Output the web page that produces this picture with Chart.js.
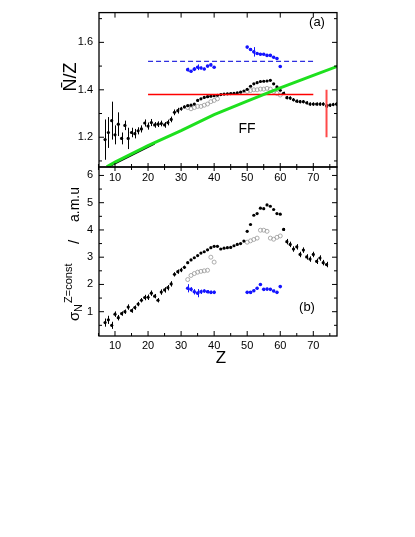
<!DOCTYPE html>
<html>
<head>
<meta charset="utf-8">
<script src="https://cdn.jsdelivr.net/npm/chart.js@4/dist/chart.umd.min.js"></script>
<style>
  body { margin: 0; background: #fff; }
  #wrap { position: relative; width: 415px; height: 537px; }
  canvas { position: absolute; left: 0; top: 0; }
</style>
</head>
<body>
<div id="wrap">
  <canvas id="graficaA" width="415" height="200"></canvas>
  <canvas id="graficaB" width="415" height="380"></canvas>
</div>
<script>
// ---- datos panel (a): N/Z promedio ----
const zA = [7, 8, 9, 10, 11, 12, 13, 14, 15, 16, 17, 18, 19, 20, 21, 22, 23, 24, 25, 26, 27, 28, 29, 30, 31, 32, 33, 34, 35, 36, 37, 38, 39, 40, 41, 42, 43, 44, 45, 46, 47, 48, 49, 50, 51, 52, 53, 54, 55, 56, 57, 58, 59, 60, 61, 62, 63, 64, 65, 66, 67, 68, 69, 70, 71, 72, 73, 74, 75, 76, 77];
const nzA = [1.19, 1.22, 1.27, 1.21, 1.255, 1.195, 1.25, 1.195, 1.22, 1.215, 1.227, 1.235, 1.26, 1.247, 1.262, 1.252, 1.255, 1.258, 1.252, 1.262, 1.275, 1.305, 1.312, 1.32, 1.328, 1.333, 1.335, 1.34, 1.355, 1.362, 1.368, 1.371, 1.373, 1.375, 1.377, 1.38, 1.382, 1.383, 1.384, 1.385, 1.387, 1.39, 1.395, 1.402, 1.415, 1.425, 1.43, 1.435, 1.436, 1.437, 1.44, 1.425, 1.412, 1.398, 1.385, 1.367, 1.365, 1.358, 1.352, 1.35, 1.35, 1.345, 1.34, 1.34, 1.34, 1.34, 1.34, 1.332, 1.335, 1.338, 1.34];
const errA = [0.085, 0.065, 0.08, 0.04, 0.05, 0.025, 0.02, 0.045, 0.02, 0.02, 0.015, 0.015, 0.015, 0.015, 0.015, 0.012, 0.012, 0.012, 0.012, 0.012, 0.012, 0.012, 0.012, 0.008, 0.006, 0.004, 0.004, 0.004, 0.004, 0.004, 0.004, 0.004, 0.004, 0.004, 0.004, 0.004, 0.004, 0.004, 0.004, 0.004, 0.004, 0.004, 0.004, 0.004, 0.004, 0.004, 0.004, 0.004, 0.004, 0.004, 0.004, 0.004, 0.004, 0.004, 0.007, 0.007, 0.007, 0.007, 0.007, 0.007, 0.007, 0.007, 0.007, 0.007, 0.007, 0.007, 0.007, 0.007, 0.007, 0.007, 0.007];

const zAbiertoLo = [32, 33, 34, 35, 36, 37, 38, 39, 40, 41];
const zAbiertoHi = [50, 51, 52, 53, 54, 55, 56, 57, 58, 59, 60];
const nzAbiertoLo = [1.325, 1.32, 1.325, 1.33, 1.33, 1.335, 1.34, 1.35, 1.355, 1.362];
const nzAbiertoHi = [1.393, 1.397, 1.40, 1.40, 1.403, 1.403, 1.406, 1.403, 1.393, 1.385, 1.378];

const zAzulLo = [32, 33, 34, 35, 36, 37, 38, 39, 40];
const zAzulHi = [50, 51, 52, 53, 54, 55, 56, 57, 58, 59, 60];
const nzAzulLo = [1.485, 1.478, 1.487, 1.495, 1.492, 1.488, 1.50, 1.505, 1.495];
const errAzulLo = [0.008, 0.005, 0.008, 0.012, 0.006, 0.005, 0.005, 0.006, 0.004];
const nzAzulHi = [1.58, 1.57, 1.56, 1.553, 1.55, 1.55, 1.545, 1.545, 1.537, 1.532, 1.498];
const errAzulHi = [0.005, 0.005, 0.02, 0.005, 0.004, 0.004, 0.004, 0.004, 0.004, 0.004, 0.004];

// linea verde (FF) y linea negra debajo al inicio
const zVerde = [7.5, 10, 20, 30, 40, 50, 60, 70, 77.5];
const nzVerde = [1.075, 1.095, 1.165, 1.228, 1.295, 1.352, 1.408, 1.461, 1.50];
const zNegra = [7.5, 22];
const nzNegra = [1.071, 1.172];

// lineas de referencia
const zRef = [20, 70];
const nzRoja = [1.38, 1.38];
const nzAzulRef = [1.52, 1.52];
const zBarraRoja = [74, 74];
const nzBarraRoja = [1.20, 1.40];

// ---- datos panel (b): sigma_N ----
const zB = [7, 8, 9, 10, 11, 12, 13, 14, 15, 16, 17, 18, 19, 20, 21, 22, 23, 24, 25, 26, 27, 28, 29, 30, 31, 32, 33, 34, 35, 36, 37, 38, 39, 40, 41, 42, 43, 44, 45, 46, 47, 48, 49, 50, 51, 52, 53, 54, 55, 56, 57, 58, 59, 60, 61, 62, 63, 64, 65, 66, 67, 68, 69, 70, 71, 72, 73, 74];
const sigB = [0.6, 0.7, 0.5, 0.91, 0.78, 0.93, 1.0, 1.17, 1.04, 1.15, 1.28, 1.42, 1.52, 1.53, 1.68, 1.57, 1.42, 1.72, 1.8, 1.88, 2.02, 2.37, 2.47, 2.53, 2.63, 2.8, 2.9, 2.98, 3.06, 3.15, 3.2, 3.27, 3.35, 3.4, 3.4, 3.3, 3.33, 3.35, 3.36, 3.42, 3.47, 3.5, 3.59, 3.95, 4.2, 4.54, 4.6, 4.8, 4.78, 4.92, 4.87, 4.75, 4.6, 4.58, 4.02, 3.57, 3.47, 3.3, 3.38, 3.1, 3.26, 3.01, 2.93, 3.1, 2.85, 2.97, 2.8, 2.73];
const errB = [0.15, 0.15, 0.13, 0.1, 0.1, 0.08, 0.08, 0.1, 0.08, 0.08, 0.08, 0.08, 0.1, 0.1, 0.1, 0.08, 0.08, 0.1, 0.1, 0.1, 0.1, 0.08, 0.08, 0.08, 0.06, 0.02, 0.02, 0.02, 0.02, 0.02, 0.02, 0.02, 0.02, 0.02, 0.02, 0.02, 0.02, 0.02, 0.02, 0.02, 0.02, 0.02, 0.02, 0.02, 0.02, 0.02, 0.02, 0.02, 0.02, 0.02, 0.02, 0.02, 0.02, 0.02, 0.05, 0.1, 0.1, 0.1, 0.1, 0.1, 0.1, 0.1, 0.1, 0.1, 0.1, 0.1, 0.1, 0.1];

const zBAbiertoLo = [32, 33, 34, 35, 36, 37, 38, 39, 40];
const sigBAbiertoLo = [2.18, 2.33, 2.4, 2.45, 2.48, 2.5, 2.52, 3.0, 2.82];
const sigBAbiertoHi = [3.55, 3.6, 3.65, 3.7, 3.99, 3.99, 3.95, 3.7, 3.66, 3.73, 3.78];

const sigBAzulLo = [1.86, 1.82, 1.73, 1.68, 1.73, 1.76, 1.73, 1.71, 1.71];
const errBAzulLo = [0.15, 0.08, 0.1, 0.15, 0.08, 0.06, 0.06, 0.06, 0.06];
const sigBAzulHi = [1.71, 1.71, 1.77, 1.86, 2.0, 1.82, 1.83, 1.82, 1.76, 1.71, 1.92];
const errBAzulHi = [0.05, 0.05, 0.05, 0.05, 0.05, 0.05, 0.05, 0.05, 0.05, 0.05, 0.05];

// ---- ticks ----
const ticksZ = [10, 20, 30, 40, 50, 60, 70];
const ticksZMenor = [5, 15, 25, 35, 45, 55, 65, 75];
const ticksA = [1.2, 1.4, 1.6];
const ticksAMenor = [1.1, 1.3, 1.5, 1.7];
const ticksB = [1, 2, 3, 4, 5, 6];
const ticksBMenor = [0.5, 1.5, 2.5, 3.5, 4.5, 5.5];

const FUENTE = "'Liberation Sans', Arial, sans-serif";

function puntos(xs, ys) {
    return xs.map((x, i) => ({ x: x, y: ys[i] }));
}

// barras de error y marco con ticks hacia dentro
const marco = {
    id: 'marco',
    beforeDatasetsDraw(chart) {
        const ctx = chart.ctx;
        const sx = chart.scales.x, sy = chart.scales.y;
        ctx.save();
        chart.data.datasets.forEach(ds => {
            if (!ds.errs) return;
            ctx.strokeStyle = ds.borderColor;
            ctx.lineWidth = 1;
            ds.data.forEach((p, j) => {
                const e = ds.errs[j];
                if (!e) return;
                const px = Math.round(sx.getPixelForValue(p.x)) + 0.5;
                ctx.beginPath();
                ctx.moveTo(px, sy.getPixelForValue(p.y - e));
                ctx.lineTo(px, sy.getPixelForValue(p.y + e));
                ctx.stroke();
            });
        });
        ctx.restore();
    },
    afterDraw(chart, args, opts) {
        const ctx = chart.ctx;
        const { left, right, top, bottom } = chart.chartArea;
        const sx = chart.scales.x, sy = chart.scales.y;
        ctx.save();
        ctx.strokeStyle = '#000';
        ctx.lineWidth = 1.3;
        ctx.strokeRect(left, top, right - left, bottom - top);
        ctx.lineWidth = 1;
        const linea = (x1, y1, x2, y2) => {
            ctx.beginPath(); ctx.moveTo(x1, y1); ctx.lineTo(x2, y2); ctx.stroke();
        };
        opts.yMayor.forEach(v => {
            const py = sy.getPixelForValue(v);
            linea(left, py, left + 5, py); linea(right, py, right - 5, py);
        });
        opts.yMenor.forEach(v => {
            const py = sy.getPixelForValue(v);
            if (py < top || py > bottom) return;
            linea(left, py, left + 3, py); linea(right, py, right - 3, py);
        });
        ticksZ.forEach(v => {
            const px = sx.getPixelForValue(v);
            if (opts.cruzado) linea(px, bottom - 4, px, bottom + 4);
            else linea(px, bottom, px, bottom - 5);
            if (opts.arriba) linea(px, top, px, top + 5);
        });
        ticksZMenor.forEach(v => {
            const px = sx.getPixelForValue(v);
            if (opts.cruzado) linea(px, bottom - 3, px, bottom + 3);
            else linea(px, bottom, px, bottom - 3);
        });
        // textos
        ctx.fillStyle = '#000';
        opts.textos.forEach(t => {
            ctx.save();
            ctx.translate(t.x, t.y);
            if (t.rot) ctx.rotate(-Math.PI / 2);
            ctx.font = t.size + 'px ' + FUENTE;
            ctx.textAlign = t.align || 'center';
            ctx.textBaseline = t.base || 'middle';
            ctx.fillText(t.text, t.dx || 0, t.dy || 0);
            ctx.restore();
        });
        ctx.restore();
    }
};

function escalaX(padTicks) {
    return {
        type: 'linear', min: 5.16, max: 77.17,
        grid: { display: false, drawTicks: false },
        border: { display: false },
        afterBuildTicks: s => { s.ticks = ticksZ.map(v => ({ value: v })); },
        ticks: { padding: padTicks, color: '#000', font: { family: FUENTE, size: 11 } },
        afterFit: s => { s.height = 33; }
    };
}

function escalaY(min, max, valores) {
    return {
        type: 'linear', min: min, max: max,
        grid: { display: false, drawTicks: false },
        border: { display: false },
        afterBuildTicks: s => { s.ticks = valores.map(v => ({ value: v })); },
        ticks: { padding: 6, color: '#000', font: { family: FUENTE, size: 11 },
                 callback: v => valores === ticksA ? v.toFixed(1) : v },
        afterFit: s => { s.width = 99; }
    };
}

const lineaDs = (xs, ys, color, ancho, dash) => ({
    data: puntos(xs, ys), showLine: true, borderColor: color, borderWidth: ancho,
    borderDash: dash || [], pointRadius: 0, fill: false
});
const negroDs = (xs, ys, errs) => ({
    data: puntos(xs, ys), errs: errs, showLine: false, borderColor: '#000',
    backgroundColor: '#000', pointRadius: 1.6, pointBorderWidth: 0
});
const abiertoDs = (xs, ys) => ({
    data: puntos(xs, ys), showLine: false, borderColor: '#999',
    backgroundColor: 'rgba(255,255,255,0)', pointRadius: 2, pointBorderWidth: 0.8
});
const azulDs = (xs, ys, errs) => ({
    data: puntos(xs, ys), errs: errs, showLine: false, borderColor: '#1414ff',
    backgroundColor: '#1414ff', pointRadius: 1.8, pointBorderWidth: 0
});

const comunes = {
    responsive: false, animation: false, devicePixelRatio: 1,
    plugins: { legend: { display: false }, tooltip: { enabled: false } }
};

// Panel (a)
new Chart(document.getElementById('graficaA'), {
    type: 'scatter',
    data: {
        datasets: [
            lineaDs(zVerde, nzVerde, '#1ee01e', 3),
            lineaDs(zNegra, nzNegra, '#000', 1.5),
            lineaDs(zRef, nzRoja, '#ff0000', 1.5),
            lineaDs(zBarraRoja, nzBarraRoja, '#ff4a4a', 2),
            lineaDs(zRef, nzAzulRef, '#2f2fe0', 1.3, [5, 3]),
            azulDs(zAzulLo, nzAzulLo, errAzulLo),
            azulDs(zAzulHi, nzAzulHi, errAzulHi),
            negroDs(zA, nzA, errA),
            abiertoDs(zAbiertoLo, nzAbiertoLo),
            abiertoDs(zAbiertoHi, nzAbiertoHi)
        ]
    },
    options: {
        ...comunes,
        layout: { padding: { left: 0, right: 78, top: 1, bottom: 0 } },
        scales: { x: escalaX(4), y: escalaY(1.0745, 1.7255, ticksA) },
        plugins: {
            ...comunes.plugins,
            marco: {
                yMayor: ticksA, yMenor: ticksAMenor, cruzado: true, arriba: true,
                textos: [
                    { text: 'N\u0304/Z', x: 71, y: 77, size: 18, rot: true },
                    { text: '(a)', x: 317, y: 22, size: 13 },
                    { text: 'FF', x: 247, y: 129, size: 14 }
                ]
            }
        }
    },
    plugins: [marco]
});

// Panel (b)
new Chart(document.getElementById('graficaB'), {
    type: 'scatter',
    data: {
        datasets: [
            azulDs(zAzulLo, sigBAzulLo, errBAzulLo),
            azulDs(zAzulHi, sigBAzulHi, errBAzulHi),
            negroDs(zB, sigB, errB),
            abiertoDs(zBAbiertoLo, sigBAbiertoLo),
            abiertoDs(zAbiertoHi, sigBAbiertoHi)
        ]
    },
    options: {
        ...comunes,
        layout: { padding: { left: 0, right: 78, top: 167, bottom: 11 } },
        scales: { x: escalaX(3), y: escalaY(0.108, 6.31, ticksB) },
        plugins: {
            ...comunes.plugins,
            marco: {
                yMayor: ticksB, yMenor: ticksBMenor, cruzado: false, arriba: false,
                textos: [
                    { text: 'Z', x: 221, y: 358, size: 17 },
                    { text: '(b)', x: 307, y: 307, size: 13 },
                    // titulo del eje y: sigma_N^{Z=const} / a.m.u
                    { text: '\u03c3', x: 79, y: 321, size: 15, rot: true, align: 'left', base: 'alphabetic', dx: 0 },
                    { text: 'N', x: 82, y: 321, size: 11, rot: true, align: 'left', base: 'alphabetic', dx: 9 },
                    { text: 'Z=const', x: 72, y: 321, size: 11, rot: true, align: 'left', base: 'alphabetic', dx: 18 },
                    { text: '/', x: 79, y: 321, size: 15, rot: true, align: 'left', base: 'alphabetic', dx: 77 },
                    { text: 'a.m.u', x: 79, y: 321, size: 14, rot: true, align: 'left', base: 'alphabetic', dx: 99 }
                ]
            }
        }
    },
    plugins: [marco]
});
</script>
</body>
</html>
